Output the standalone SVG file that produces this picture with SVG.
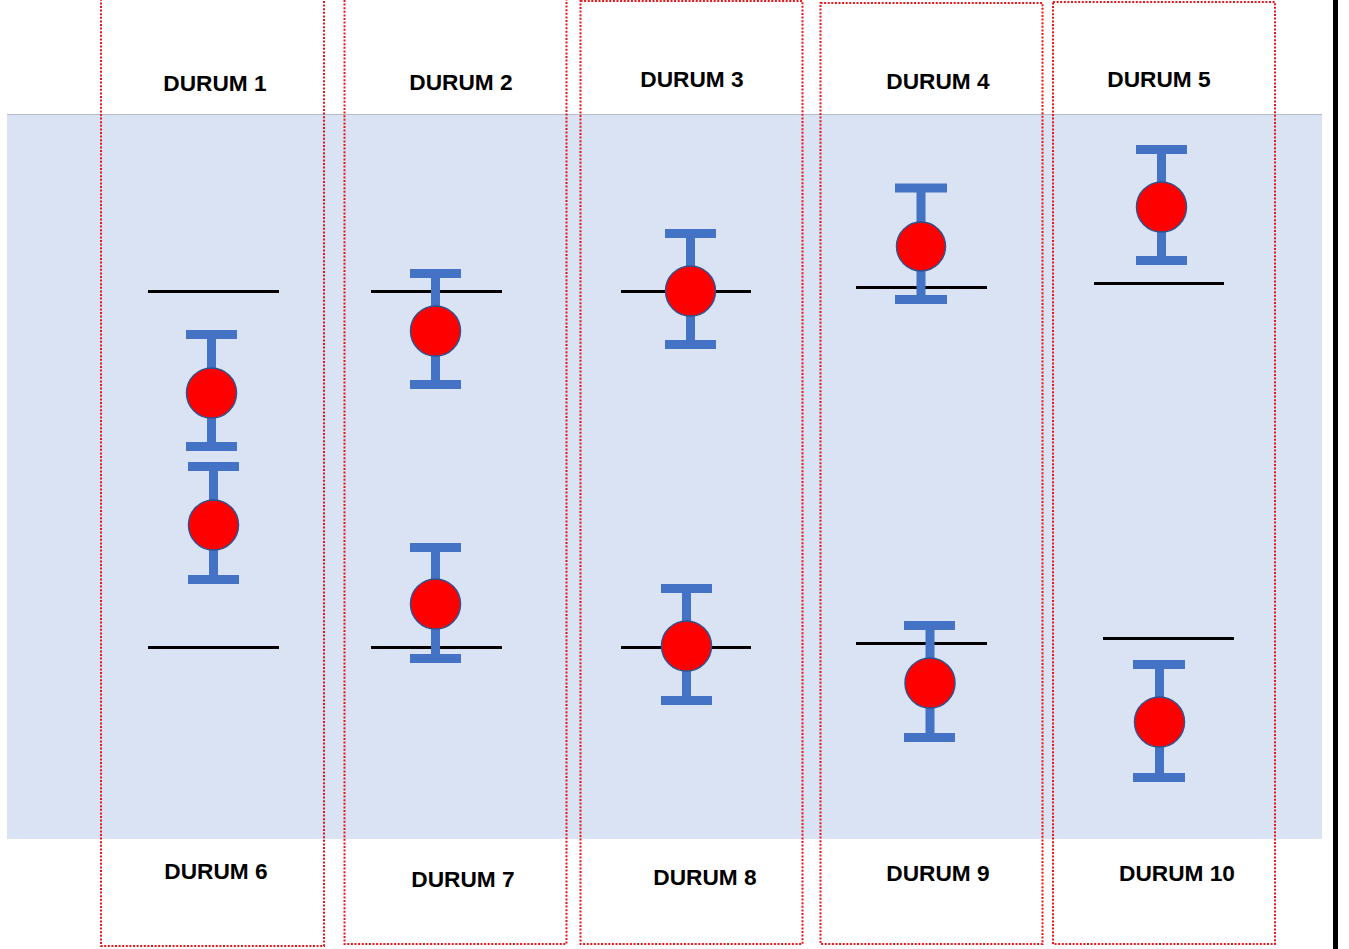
<svg xmlns="http://www.w3.org/2000/svg" width="1349" height="949" viewBox="0 0 1349 949">
  <style>
    .band { fill: #DAE3F3; }
    .frame { fill: none; stroke: #E8161B; stroke-width: 2; stroke-dasharray: 2 1.6; }
    .lbl { font-family: "Liberation Sans", Arial, sans-serif; font-weight: bold; font-size: 22.7px; fill: #000; text-anchor: middle; }
    .ref { stroke: #000; stroke-width: 3; }
    .bar { fill: #4472C4; }
    .dot { fill: #FF0000; stroke: #2F528F; stroke-width: 1.5; }
  </style>

  <rect x="0" y="0" width="1349" height="949" fill="#FFFFFF"/>
  <rect class="band" x="7" y="114" width="1315" height="725"/>
  <line x1="7" y1="114.5" x2="1322" y2="114.5" stroke="#B4BCCB" stroke-width="1"/>
  <rect x="1333" y="0" width="5" height="949" fill="#000"/>

  <!-- column frames -->
  <g id="frames">
    <rect class="frame" x="101" y="-10" width="223" height="956"/>
    <rect class="frame" x="344.5" y="-10" width="222" height="954"/>
    <rect class="frame" x="580.5" y="1" width="222" height="943"/>
    <rect class="frame" x="820.5" y="3" width="222" height="941"/>
    <rect class="frame" x="1053" y="2" width="222" height="942"/>
  </g>

  <!-- reference lines -->
  <g id="connectors">
    <line class="ref" x1="148" y1="291.5" x2="279" y2="291.5"/>
    <line class="ref" x1="148" y1="647.5" x2="279" y2="647.5"/>
    <line class="ref" x1="371" y1="291.5" x2="502" y2="291.5"/>
    <line class="ref" x1="371" y1="647.5" x2="502" y2="647.5"/>
    <line class="ref" x1="621" y1="291.5" x2="751" y2="291.5"/>
    <line class="ref" x1="621" y1="647.5" x2="751" y2="647.5"/>
    <line class="ref" x1="856" y1="287.5" x2="987" y2="287.5"/>
    <line class="ref" x1="856" y1="643.5" x2="987" y2="643.5"/>
    <line class="ref" x1="1094" y1="283.5" x2="1224" y2="283.5"/>
    <line class="ref" x1="1103" y1="638.5" x2="1234" y2="638.5"/>
  </g>

  <!-- DURUM 1 -->
  <g id="durum1">
    <text class="lbl" x="215" y="91">DURUM 1</text>
    <rect class="bar" x="207" y="334" width="9" height="112"/>
    <rect class="bar" x="186" y="330" width="51" height="9"/>
    <rect class="bar" x="186" y="442" width="51" height="9"/>
    <circle class="dot" cx="211.5" cy="393" r="25"/>
  </g>
  <!-- DURUM 6 -->
  <g id="durum6">
    <text class="lbl" x="216" y="879">DURUM 6</text>
    <rect class="bar" x="209" y="466" width="9" height="113"/>
    <rect class="bar" x="188" y="462" width="51" height="9"/>
    <rect class="bar" x="188" y="575" width="51" height="9"/>
    <circle class="dot" cx="213.5" cy="525" r="25"/>
  </g>

  <!-- DURUM 2 -->
  <g id="durum2">
    <text class="lbl" x="461" y="90">DURUM 2</text>
    <rect class="bar" x="431" y="273" width="9" height="111"/>
    <rect class="bar" x="410" y="269" width="51" height="9"/>
    <rect class="bar" x="410" y="380" width="51" height="9"/>
    <circle class="dot" cx="435.5" cy="331" r="25"/>
  </g>
  <!-- DURUM 7 -->
  <g id="durum7">
    <text class="lbl" x="463" y="887">DURUM 7</text>
    <rect class="bar" x="431" y="547" width="9" height="111"/>
    <rect class="bar" x="410" y="543" width="51" height="9"/>
    <rect class="bar" x="410" y="654" width="51" height="9"/>
    <circle class="dot" cx="435.5" cy="604" r="25"/>
  </g>

  <!-- DURUM 3 -->
  <g id="durum3">
    <text class="lbl" x="692" y="87">DURUM 3</text>
    <rect class="bar" x="686" y="233" width="9" height="111"/>
    <rect class="bar" x="665" y="229" width="51" height="9"/>
    <rect class="bar" x="665" y="340" width="51" height="9"/>
    <circle class="dot" cx="690.5" cy="291" r="25"/>
  </g>
  <!-- DURUM 8 -->
  <g id="durum8">
    <text class="lbl" x="705" y="885">DURUM 8</text>
    <rect class="bar" x="682" y="588" width="9" height="112"/>
    <rect class="bar" x="661" y="584" width="51" height="9"/>
    <rect class="bar" x="661" y="696" width="51" height="9"/>
    <circle class="dot" cx="686.5" cy="646" r="25"/>
  </g>

  <!-- DURUM 4 -->
  <g id="durum4">
    <text class="lbl" x="938" y="89">DURUM 4</text>
    <rect class="bar" x="916.5" y="188" width="9" height="111"/>
    <rect class="bar" x="895" y="183.5" width="52" height="9"/>
    <rect class="bar" x="895" y="295" width="52" height="9"/>
    <circle class="dot" cx="921" cy="246.5" r="24.5"/>
  </g>
  <!-- DURUM 9 -->
  <g id="durum9">
    <text class="lbl" x="938" y="881">DURUM 9</text>
    <rect class="bar" x="925.5" y="625" width="9" height="112"/>
    <rect class="bar" x="904" y="621" width="51" height="9"/>
    <rect class="bar" x="904" y="733" width="51" height="9"/>
    <circle class="dot" cx="930" cy="683" r="25"/>
  </g>

  <!-- DURUM 5 -->
  <g id="durum5">
    <text class="lbl" x="1159" y="87">DURUM 5</text>
    <rect class="bar" x="1157" y="149" width="9" height="111"/>
    <rect class="bar" x="1136" y="145" width="51" height="9"/>
    <rect class="bar" x="1136" y="256" width="51" height="9"/>
    <circle class="dot" cx="1161.5" cy="207" r="25"/>
  </g>
  <!-- DURUM 10 -->
  <g id="durum10">
    <text class="lbl" x="1177" y="881">DURUM 10</text>
    <rect class="bar" x="1155" y="664" width="9" height="113"/>
    <rect class="bar" x="1133" y="660" width="52" height="9"/>
    <rect class="bar" x="1133" y="773" width="52" height="9"/>
    <circle class="dot" cx="1159.5" cy="722" r="25"/>
  </g>
</svg>
